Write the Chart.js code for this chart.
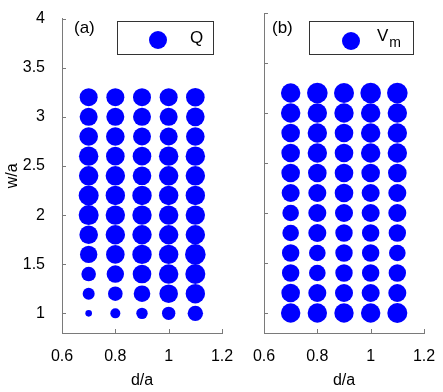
<!DOCTYPE html>
<html>
<head>
<meta charset="utf-8">
<script src="https://cdn.jsdelivr.net/npm/chart.js@4"></script>
<style>
  body { margin: 0; background: #fff; }
  #wrap { position: relative; width: 443px; height: 392px; font-family: "Liberation Sans", Arial, sans-serif; }
  #wrap canvas { position: absolute; left: 0; top: 0; }
  .tag { position: absolute; font-size: 17px; color: #000; }
  .lbox { position: absolute; border: 1px solid #333; background: #fff; box-sizing: border-box; }
  .dot { position: absolute; width: 18px; height: 18px; border-radius: 50%; background: #0000ff; }
  .ltxt { position: absolute; font-size: 17px; color: #000; }
</style>
</head>
<body>
<div id="wrap">
  <canvas id="chartA" width="443" height="392"></canvas>
  <canvas id="chartB" width="443" height="392"></canvas>
  <div class="tag" style="left:74px; top:18px;">(a)</div>
  <div class="tag" style="left:272px; top:18px;">(b)</div>
  <div class="lbox" style="left:117px; top:21px; width:97px; height:34px;">
    <div class="dot" style="left:31px; top:9px;"></div>
    <div class="ltxt" style="left:72px; top:6px;">Q</div>
  </div>
  <div class="lbox" style="left:309px; top:21px; width:105px; height:34px;">
    <div class="dot" style="left:32px; top:10px;"></div>
    <div class="ltxt" style="left:67px; top:4px;">V<sub style="font-size:14px; position:relative; top:2px; margin-left:1px;">m</sub></div>
  </div>
</div>
<script>
// d/a positions and w/a positions of the grid of cases
const dVals = [0.7, 0.8, 0.9, 1.0, 1.1];
const wVals = [1.0, 1.2, 1.4, 1.6, 1.8, 2.0, 2.2, 2.4, 2.6, 2.8, 3.0, 3.2];

// marker sizes, one row per w/a (bottom to top), one column per d/a
const sizeQ = [
  [3.3, 5.0, 5.7, 6.7, 7.7],
  [6.0, 7.3, 8.3, 9.3, 9.7],
  [7.3, 8.7, 9.3, 9.7, 10.0],
  [8.7, 9.3, 9.7, 9.7, 10.3],
  [9.3, 9.7, 9.7, 9.7, 9.7],
  [10.0, 9.7, 9.7, 9.7, 9.7],
  [10.0, 9.7, 9.7, 9.7, 9.7],
  [9.7, 9.7, 9.3, 9.7, 9.7],
  [9.7, 9.3, 9.3, 9.7, 9.7],
  [9.3, 9.3, 9.0, 9.0, 9.3],
  [9.0, 9.0, 9.0, 9.0, 9.3],
  [9.0, 9.0, 9.0, 9.0, 9.3]
];
const sizeVm = [
  [9.7, 9.7, 9.7, 9.7, 10.0],
  [9.3, 9.0, 9.0, 9.0, 9.0],
  [8.7, 8.3, 8.7, 8.7, 8.7],
  [8.7, 8.3, 8.7, 8.7, 8.3],
  [8.3, 9.0, 8.7, 8.7, 8.7],
  [8.3, 9.0, 9.0, 9.0, 9.0],
  [9.0, 9.0, 9.3, 9.0, 9.0],
  [9.3, 9.3, 9.3, 9.3, 9.3],
  [9.3, 9.7, 9.3, 9.7, 9.7],
  [9.3, 9.7, 9.3, 9.7, 9.7],
  [9.7, 9.7, 9.7, 9.7, 9.7],
  [9.7, 10.3, 10.0, 10.3, 10.3]
];

const xTicks = [0.6, 0.8, 1, 1.2];
const yTicks = [1, 1.5, 2, 2.5, 3, 3.5, 4];

const FONT = { family: "'Liberation Sans', Arial, sans-serif", size: 16 };
const AXIS = "#7a7a7a";

function buildPoints(sizes) {
  const pts = [];
  wVals.forEach((w, i) => {
    dVals.forEach((d, j) => {
      pts.push({ x: d, y: w, r: sizes[i][j] });
    });
  });
  return pts;
}

// MATLAB-like ticks pointing into the plot
const innerTicks = {
  id: "innerTicks",
  afterDraw(chart) {
    const ctx = chart.ctx;
    const a = chart.chartArea;
    const xs = chart.scales.x, ys = chart.scales.y;
    ctx.save();
    ctx.strokeStyle = AXIS;
    ctx.lineWidth = 1;
    ctx.beginPath();
    xs.ticks.forEach((t) => {
      const px = Math.round(xs.getPixelForValue(t.value)) + 0.5;
      ctx.moveTo(px, a.bottom);
      ctx.lineTo(px, a.bottom - 4);
    });
    ys.ticks.forEach((t) => {
      const py = Math.round(ys.getPixelForValue(t.value)) + 0.5;
      ctx.moveTo(a.left, py);
      ctx.lineTo(a.left + 4, py);
    });
    ctx.stroke();
    ctx.restore();
  }
};

function makeChart(id, sizes, showY, padRight, yWidth) {
  return new Chart(document.getElementById(id), {
    type: "bubble",
    data: {
      datasets: [{
        data: buildPoints(sizes),
        backgroundColor: "#0000ff",
        borderWidth: 0,
        hoverRadius: 0,
        clip: false
      }]
    },
    options: {
      responsive: false,
      animation: false,
      events: [],
      layout: { padding: { top: 13, right: padRight, bottom: 0, left: 0 } },
      plugins: { legend: { display: false }, tooltip: { enabled: false } },
      scales: {
        x: {
          type: "linear",
          min: 0.6,
          max: 1.2,
          afterBuildTicks: (s) => { s.ticks = xTicks.map((v) => ({ value: v })); },
          afterFit: (s) => { s.height = 59; },
          grid: { display: false },
          border: { display: true, color: AXIS, width: 1 },
          ticks: { color: "#000", font: FONT, padding: 6, maxRotation: 0, callback: (v) => String(v) },
          title: { display: true, text: "d/a", color: "#000", font: FONT, padding: { top: 0, bottom: 2 } }
        },
        y: {
          type: "linear",
          min: 0.8,
          max: 4,
          afterBuildTicks: (s) => { s.ticks = yTicks.map((v) => ({ value: v })); },
          afterFit: (s) => { s.width = yWidth; },
          grid: { display: false },
          border: { display: true, color: AXIS, width: 1 },
          ticks: { display: showY, color: "#000", font: FONT, padding: 9, callback: (v) => String(v) },
          title: { display: showY, text: "w/a", color: "#000", font: FONT, padding: { top: 3, bottom: 0 } }
        }
      }
    },
    plugins: [innerTicks]
  });
}

makeChart("chartA", sizeQ, true, 443 - 222, 62);
makeChart("chartB", sizeVm, false, 443 - 424, 264);
</script>
</body>
</html>
